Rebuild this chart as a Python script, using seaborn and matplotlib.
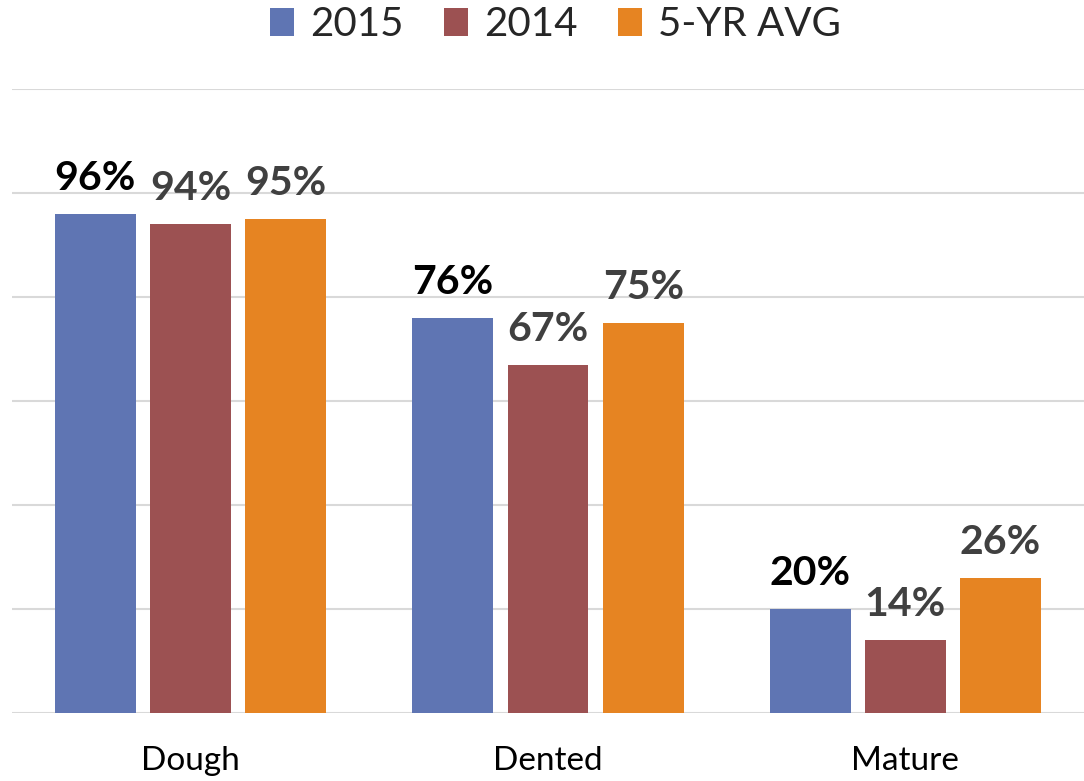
import matplotlib
matplotlib.use("Agg")
import matplotlib.pyplot as plt
import seaborn as sns
import pandas as pd
from matplotlib.patches import Patch

categories = ["Dough", "Dented", "Mature"]
series = ["2015", "2014", "5-YR AVG"]
values_2015 = [96, 76, 20]
values_2014 = [94, 67, 14]
values_avg = [95, 75, 26]
colors = ["#5F75B3", "#9C5152", "#E68422"]
label_colors = ["#000000", "#404040", "#404040"]

df = pd.DataFrame({
    "category": categories * 3,
    "series": [series[0]] * 3 + [series[1]] * 3 + [series[2]] * 3,
    "value": values_2015 + values_2014 + values_avg,
})

sns.set_theme(style="white")
plt.rcParams["font.family"] = ["Lato", "DejaVu Sans"]

fig = plt.figure(figsize=(10.84, 7.81), dpi=100)
ax = fig.add_axes([12 / 1084, 68 / 781, 1 - 12 / 1084, (713 - 89) / 781])

sns.barplot(data=df, x="category", y="value", hue="series", order=categories,
            hue_order=series, palette=colors, width=0.8, gap=0.15,
            saturation=1, legend=False, ax=ax, zorder=3, edgecolor="none")

ax.set_ylim(0, 120)
ax.set_xlim(-0.5, 2.5)
ax.set_yticks(range(0, 121, 20))
ax.yaxis.grid(True, color="#D9D9D9", linewidth=1.5, zorder=0)
ax.set_axisbelow(True)
ax.set_yticklabels([])
ax.tick_params(axis="y", length=0)
ax.tick_params(axis="x", length=0, pad=24, labelsize=24, labelcolor="#000000")
ax.set_xlabel("")
ax.set_ylabel("")
for s in ["top", "right", "left", "bottom"]:
    ax.spines[s].set_visible(False)

for i, cont in enumerate(ax.containers):
    for bar in cont:
        h = bar.get_height()
        ax.annotate(f"{h:.0f}%", xy=(bar.get_x() + bar.get_width() / 2, h),
                    xytext=(0, 24 * 72 / 100), textcoords="offset points",
                    ha="center", va="baseline", fontsize=29.5, fontweight="bold",
                    color=label_colors[i], zorder=5)

handles = [Patch(facecolor=c, edgecolor="none") for c in colors]
fig.legend(handles, series, loc="center", bbox_to_anchor=(0.5125, 0.968), ncol=3,
           frameon=False, fontsize=29, handlelength=0.6, handleheight=0.7,
           handletextpad=0.4, columnspacing=1.0)

fig.savefig("out.png", dpi=100)
